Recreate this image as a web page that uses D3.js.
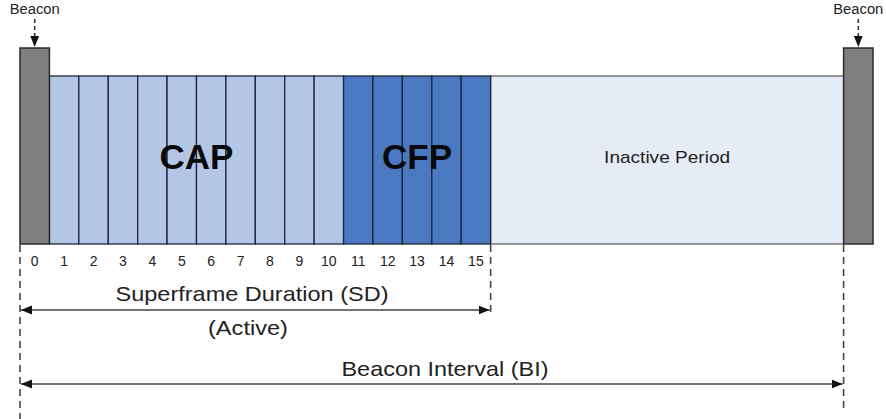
<!DOCTYPE html>
<html>
<head>
<meta charset="utf-8">
<script src="https://cdn.jsdelivr.net/npm/d3@7"></script>
<style>
  body { margin: 0; background: #fff; }
  svg text { font-family: "Liberation Sans", Arial, sans-serif; }
</style>
</head>
<body>
<div id="chart"></div>
<script>
// slot numbers under the superframe
const slotLabels = ["0", "1", "2", "3", "4", "5", "6", "7", "8", "9", "10", "11", "12", "13", "14", "15"];
// kind of each slot (slot 0 holds the beacon)
const slotKinds = ["beacon", "cap", "cap", "cap", "cap", "cap", "cap", "cap", "cap", "cap", "cap", "cfp", "cfp", "cfp", "cfp", "cfp"];
// periods in slot units: [name, start, end]
const periodNames = ["CAP", "CFP", "Inactive Period"];
const periodStart = [1, 11, 16];
const periodEnd = [11, 16, 28];
// beacon positions in slot units
const beaconAt = [0, 28];
// spans below the frame
const spanNames = ["Superframe Duration (SD)", "Beacon Interval (BI)"];
const spanEnd = [16, 28];

const width = 886, height = 419;
const svg = d3.select("#chart").append("svg")
  .attr("width", width)
  .attr("height", height);

const x = d3.scaleLinear().domain([0, 29]).range([20, 873]);
const yTop = 76, yBottom = 244, beaconTop = 48;

const fills = { cap: "#b3c6e6", cfp: "#4a78c1", beacon: "#7f7f7f" };

const defs = svg.append("defs");
defs.append("marker")
  .attr("id", "head")
  .attr("viewBox", "0 0 10 10")
  .attr("refX", 10).attr("refY", 5)
  .attr("markerWidth", 11).attr("markerHeight", 11)
  .attr("markerUnits", "userSpaceOnUse")
  .attr("orient", "auto-start-reverse")
  .append("path")
  .attr("d", "M0,1 L10,5 L0,9 Z")
  .attr("fill", "#111");

// inactive period background
svg.append("rect")
  .attr("x", x(periodStart[2]))
  .attr("y", yTop)
  .attr("width", x(periodEnd[2]) - x(periodStart[2]))
  .attr("height", yBottom - yTop)
  .attr("fill", "#e6ecf6")
  .attr("stroke", "#555")
  .attr("stroke-width", 1.2);

// active slots
svg.selectAll("rect.slot")
  .data(slotKinds.slice(1).map((k, i) => ({ kind: k, i: i + 1 })))
  .enter()
  .append("rect")
  .attr("class", "slot")
  .attr("x", d => x(d.i))
  .attr("y", yTop)
  .attr("width", d => x(d.i + 1) - x(d.i))
  .attr("height", yBottom - yTop)
  .attr("fill", d => fills[d.kind])
  .attr("stroke", "#1c2739")
  .attr("stroke-width", 1.3);

// beacons
svg.selectAll("rect.beacon")
  .data(beaconAt)
  .enter()
  .append("rect")
  .attr("class", "beacon")
  .attr("x", d => x(d))
  .attr("y", beaconTop)
  .attr("width", d => x(d + 1) - x(d))
  .attr("height", yBottom - beaconTop)
  .attr("fill", fills.beacon)
  .attr("stroke", "#2b2b2b")
  .attr("stroke-width", 1.5);

// beacon labels and dashed arrows above
beaconAt.forEach(b => {
  const cx = (x(b) + x(b + 1)) / 2;
  svg.append("text")
    .attr("x", cx)
    .attr("y", 14)
    .attr("text-anchor", "middle")
    .attr("font-size", 14)
    .attr("textLength", 50)
    .attr("lengthAdjust", "spacingAndGlyphs")
    .attr("fill", "#222")
    .text("Beacon");
  svg.append("line")
    .attr("x1", cx).attr("x2", cx)
    .attr("y1", 19).attr("y2", beaconTop - 1)
    .attr("stroke", "#333")
    .attr("stroke-width", 1.6)
    .attr("stroke-dasharray", "4,3")
    .attr("marker-end", "url(#head)");
});

// period labels
periodNames.forEach((name, i) => {
  const cx = (x(periodStart[i]) + x(periodEnd[i])) / 2;
  const big = name !== "Inactive Period";
  const t = svg.append("text")
    .attr("x", cx)
    .attr("y", big ? 169 : 163)
    .attr("text-anchor", "middle")
    .attr("font-size", big ? 35 : 17)
    .attr("font-weight", big ? "bold" : "normal")
    .attr("fill", big ? "#0a0a0a" : "#222")
    .text(name);
  if (!big) t.attr("textLength", 126).attr("lengthAdjust", "spacingAndGlyphs");
});

// slot numbers
svg.selectAll("text.num")
  .data(slotLabels)
  .enter()
  .append("text")
  .attr("class", "num")
  .attr("x", (d, i) => (x(i) + x(i + 1)) / 2)
  .attr("y", 266)
  .attr("text-anchor", "middle")
  .attr("font-size", 14)
  .attr("fill", "#222")
  .text(d => d);

// dashed guide lines
const guides = [[0, 419], [16, 316], [28, 413]];
svg.selectAll("line.guide")
  .data(guides)
  .enter()
  .append("line")
  .attr("class", "guide")
  .attr("x1", d => x(d[0]))
  .attr("x2", d => x(d[0]))
  .attr("y1", yBottom + 1)
  .attr("y2", d => d[1])
  .attr("stroke", "#444")
  .attr("stroke-width", 1.6)
  .attr("stroke-dasharray", "7,5");

// spans
const spanY = [310, 384];
spanNames.forEach((name, i) => {
  svg.append("line")
    .attr("x1", x(0) + 1)
    .attr("x2", x(spanEnd[i]) - 1)
    .attr("y1", spanY[i]).attr("y2", spanY[i])
    .attr("stroke", "#444")
    .attr("stroke-width", 1.6)
    .attr("marker-start", "url(#head)")
    .attr("marker-end", "url(#head)");
});

svg.append("text")
  .attr("x", 252).attr("y", 301)
  .attr("text-anchor", "middle")
  .attr("font-size", 21)
  .attr("textLength", 273)
  .attr("lengthAdjust", "spacingAndGlyphs")
  .attr("fill", "#222")
  .text(spanNames[0]);

svg.append("text")
  .attr("x", 248).attr("y", 335)
  .attr("text-anchor", "middle")
  .attr("font-size", 21)
  .attr("textLength", 80)
  .attr("lengthAdjust", "spacingAndGlyphs")
  .attr("fill", "#222")
  .text("(Active)");

svg.append("text")
  .attr("x", 445).attr("y", 376)
  .attr("text-anchor", "middle")
  .attr("font-size", 21)
  .attr("textLength", 207)
  .attr("lengthAdjust", "spacingAndGlyphs")
  .attr("fill", "#222")
  .text(spanNames[1]);
</script>
</body>
</html>
